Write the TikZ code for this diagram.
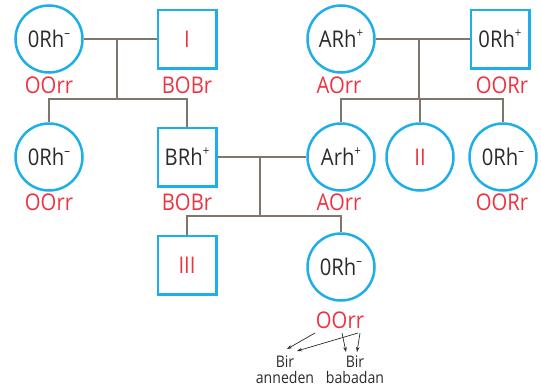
\documentclass[tikz,border=0pt]{standalone}
\usepackage{fontspec}
\setmainfont{Open Sans}[FakeStretch=0.88]
\usetikzlibrary{arrows.meta}
\definecolor{cblue}{HTML}{1EAEE8}
\definecolor{cred}{HTML}{EE3340}
\definecolor{cgray}{HTML}{7F766C}
\definecolor{ctext}{HTML}{2B2B2B}
\newcommand{\rhm}{Rh\raisebox{0.8ex}{\fontsize{13}{13}\selectfont –}}
\newcommand{\rhp}{Rh\raisebox{0.8ex}{\fontsize{13}{13}\selectfont +}}
\newcommand{\rlp}{rh\raisebox{0.8ex}{\fontsize{13}{13}\selectfont +}}
\begin{document}
\begin{tikzpicture}[x=1pt,y=-1pt,
  person/.style={circle,draw=cblue,line width=2.5pt,minimum size=67pt,inner sep=0pt,font=\fontsize{23}{26}\selectfont,text=ctext},
  male/.style={rectangle,draw=cblue,line width=2.5pt,minimum size=58.5pt,inner sep=0pt,font=\fontsize{23}{26}\selectfont,text=ctext},
  geno/.style={text=cred,font=\fontsize{23}{26}\selectfont,inner sep=0pt},
  link/.style={draw=cgray,line width=1.4pt},
  note/.style={font=\fontsize{16}{16}\selectfont,text=ctext,align=center,inner sep=0pt},
  gen/.style={-{Stealth[length=5pt,width=3.5pt]},line width=0.7pt,draw=ctext}]
\useasboundingbox (0,0) rectangle (541,391);
% row 1
\node[person] (a) at (49,39) {0\rhm};
\node[male,text=cred] (b) at (187,39) {I};
\node[person] (c) at (341,39) {A\rhp};
\node[male] (d) at (500,39) {0\rhp};
\node[geno] (ga) at (49,85) {OOrr};
\node[geno] (gb) at (187,85) {BOBr};
\node[geno] (gc) at (339,85) {AOrr};
\node[geno] (gd) at (502,85) {OORr};
% row 2
\node[person] (e) at (49,157) {0\rhm};
\node[male] (f) at (187,157) {B\rhp};
\node[person] (g) at (341,157) {A\rlp};
\node[person,text=cred] (h) at (420,157) {II};
\node[person] (i) at (503,157) {0\rhm};
\node[geno] (ge) at (49,202) {OOrr};
\node[geno] (gf) at (187,202) {BOBr};
\node[geno] (gg) at (339,202) {AOrr};
\node[geno] (gi) at (502,202) {OORr};
% row 3
\node[male,text=cred] (j) at (187,265) {III};
\node[person] (k) at (341,267) {0\rhm};
\node[geno] (gk) at (340,320) {OOrr};
\node[note] (n1) at (285,370) {Bir\\anneden};
\node[note] (n2) at (355,370) {Bir\\babadan};
% links
\coordinate (m1) at (117,39); \coordinate (m1b) at (117,99);
\draw[link] (a.east) -- (b.west);
\draw[link] (m1) -- (m1b);
\draw[link] (e.north) -- (e.north |- m1b) -- (f.north |- m1b) -- (f.north);
\coordinate (m2) at (419,39); \coordinate (m2b) at (419,99);
\draw[link] (c.east) -- (d.west);
\draw[link] (m2) -- (m2b);
\draw[link] (g.north) -- (g.north |- m2b) -- (i.north |- m2b) -- (i.north);
\draw[link] (h.north) -- (h.north |- m2b);
\coordinate (m3) at (260,157); \coordinate (m3b) at (260,216);
\draw[link] (f.east) -- (g.west);
\draw[link] (m3) -- (m3b);
\draw[link] (j.north) -- (j.north |- m3b) -- (k.north |- m3b) -- (k.north);
% arrows
\coordinate (s1) at (315,333); \coordinate (t1) at (287,349);
\coordinate (s2) at (358,333); \coordinate (t2) at (297,351);
\coordinate (s3) at (342,333); \coordinate (t3) at (346,352);
\coordinate (s4) at (360,333); \coordinate (t4) at (357,352);
\draw[gen] (s1) -- (t1);
\draw[gen] (s2) -- (t2);
\draw[gen] (s3) -- (t3);
\draw[gen] (s4) -- (t4);
\end{tikzpicture}
\end{document}
